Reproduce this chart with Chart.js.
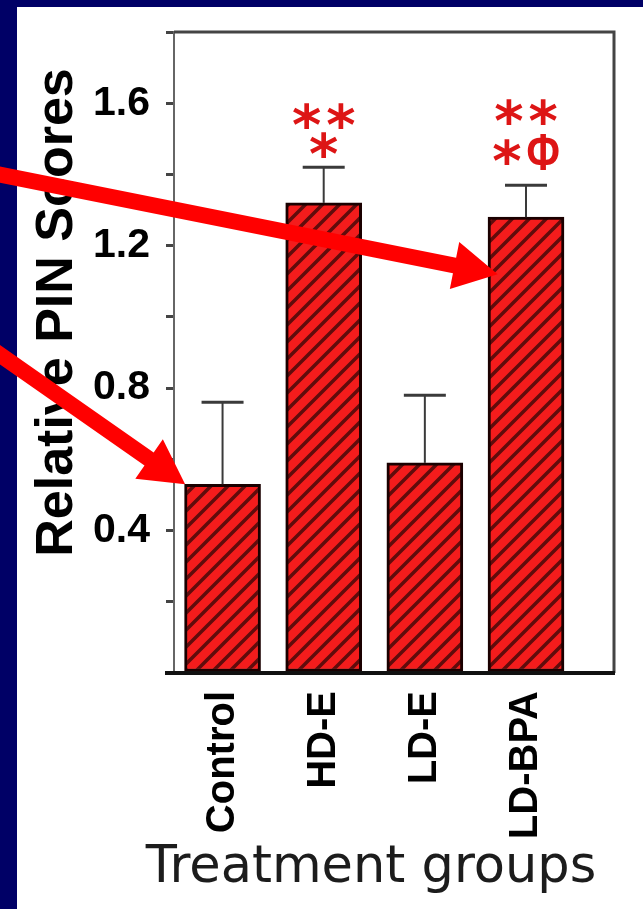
<!DOCTYPE html>
<html>
<head>
<meta charset="utf-8">
<title>Relative PIN Scores</title>
<script src="https://cdn.jsdelivr.net/npm/chart.js@4.4.1/dist/chart.umd.min.js"></script>
<style>
    html, body { margin: 0; padding: 0; background: #000066; }
    #pin-chart { display: block; }
</style>
</head>
<body>
<canvas id="pin-chart" width="643" height="909"></canvas>
<script>
(function () {
    'use strict';

    // PIN scores per treatment group (mean + upper SE)
    const groups = ['Control', 'HD-E', 'LD-E', 'LD-BPA'];
    const pinScores = [0.53, 1.32, 0.59, 1.28];
    const pinErrors = [0.23, 0.10, 0.19, 0.09];
    const yLabelled = [0.4, 0.8, 1.2, 1.6];
    const sigMarks = [[], ['**', '*'], [], ['**', '*Φ']];

    const NAVY = '#000066';
    const RED = '#f41c1c';
    const ARIAL = '"Liberation Sans", Arial, sans-serif';
    const VERDANA = '"DejaVu Sans", Verdana, sans-serif';

    // diagonal hatch used as the bar fill
    function hatch() {
        const s = 17;
        const c = document.createElement('canvas');
        c.width = s;
        c.height = s;
        const g = c.getContext('2d');
        g.fillStyle = RED;
        g.fillRect(0, 0, s, s);
        g.strokeStyle = '#600c0c';
        g.lineWidth = 3.5;
        g.beginPath();
        g.moveTo(-1, s + 1); g.lineTo(s + 1, -1);
        g.moveTo(-s / 2 - 1, s / 2 + 1); g.lineTo(s / 2 + 1, -s / 2 - 1);
        g.moveTo(s / 2 - 1, s * 1.5 + 1); g.lineTo(s * 1.5 + 1, s / 2 - 1);
        g.stroke();
        return g.createPattern(c, 'repeat');
    }

    // fixed scale box sizes, no extra label padding
    function fixBox(scale, size) {
        if (scale.isHorizontal()) scale.height = size; else scale.width = size;
        scale.paddingTop = scale.paddingBottom = scale.paddingLeft = scale.paddingRight = 0;
    }

    const panel = {
        id: 'panel',
        beforeDraw(chart) {
            const ctx = chart.ctx;
            ctx.save();
            ctx.fillStyle = NAVY;
            ctx.fillRect(0, 0, chart.width, chart.height);
            ctx.fillStyle = '#fff';
            ctx.fillRect(17, 7, chart.width - 17, chart.height - 7);
            ctx.restore();
        }
    };

    const errorBars = {
        id: 'errorBars',
        afterDatasetsDraw(chart) {
            const { ctx, scales: { x, y } } = chart;
            ctx.save();
            ctx.strokeStyle = '#3a3a3a';
            pinScores.forEach((v, i) => {
                const px = x.getPixelForValue(i);
                const top = y.getPixelForValue(v + pinErrors[i]);
                ctx.lineWidth = 2;
                ctx.beginPath();
                ctx.moveTo(px, y.getPixelForValue(v));
                ctx.lineTo(px, top);
                ctx.stroke();
                ctx.lineWidth = 3;
                ctx.beginPath();
                ctx.moveTo(px - 21, top);
                ctx.lineTo(px + 21, top);
                ctx.stroke();
            });
            ctx.restore();
        }
    };

    // glyph look for the significance marks
    const markFont = {
        '*': { font: `bold 56px ${VERDANA}`, sx: 1 },
        'Φ': { font: `bold 52px ${ARIAL}`, sx: 0.78 }
    };

    // one row of marks, each glyph centred on cy by its own ink box
    function glyphRow(ctx, text, cx, cy, gap) {
        const chars = Array.from(text);
        const info = chars.map(ch => {
            const f = markFont[ch] || markFont['*'];
            ctx.font = f.font;
            const m = ctx.measureText(ch);
            return { ch, f, w: m.width * f.sx, mid: (m.actualBoundingBoxAscent - m.actualBoundingBoxDescent) / 2 };
        });
        const total = info.reduce((a, g) => a + g.w, 0) + gap * (chars.length - 1);
        let px = cx - total / 2;
        info.forEach(g => {
            ctx.save();
            ctx.font = g.f.font;
            ctx.translate(px, cy + g.mid);
            ctx.scale(g.f.sx, 1);
            ctx.fillText(g.ch, 0, 0);
            ctx.restore();
            px += g.w + gap;
        });
    }

    function arrow(ctx, tx, ty, slope) {
        const sx = -6, sy = ty - slope * (tx - sx);
        const len = Math.hypot(tx - sx, ty - sy);
        const ux = (tx - sx) / len, uy = (ty - sy) / len;
        const nx = -uy, ny = ux;
        const head = 44, half = 24, shaft = 8;
        const bx = tx - ux * head, by = ty - uy * head;
        ctx.beginPath();
        ctx.moveTo(sx + nx * shaft, sy + ny * shaft);
        ctx.lineTo(bx + nx * shaft, by + ny * shaft);
        ctx.lineTo(bx + nx * half, by + ny * half);
        ctx.lineTo(tx, ty);
        ctx.lineTo(bx - nx * half, by - ny * half);
        ctx.lineTo(bx - nx * shaft, by - ny * shaft);
        ctx.lineTo(sx - nx * shaft, sy - ny * shaft);
        ctx.closePath();
        ctx.fill();
    }

    const decorations = {
        id: 'decorations',
        afterDraw(chart, args, opts) {
            const { ctx, chartArea: ca, scales: { x, y } } = chart;
            ctx.save();

            // box frame and heavy baseline
            ctx.strokeStyle = '#444';
            ctx.lineWidth = 3;
            ctx.beginPath();
            ctx.moveTo(ca.left, ca.top);
            ctx.lineTo(ca.right, ca.top);
            ctx.lineTo(ca.right, ca.bottom);
            ctx.stroke();
            ctx.strokeStyle = '#111';
            ctx.lineWidth = 4;
            ctx.beginPath();
            ctx.moveTo(ca.left - 9, ca.bottom);
            ctx.lineTo(ca.right + 1, ca.bottom);
            ctx.stroke();

            // axis titles
            ctx.fillStyle = '#000';
            ctx.font = `bold 52px ${ARIAL}`;
            ctx.textAlign = 'center';
            ctx.textBaseline = 'alphabetic';
            ctx.save();
            ctx.translate(ca.left - 102, (ca.top + ca.bottom) / 2 - 40);
            ctx.rotate(-Math.PI / 2);
            ctx.fillText('Relative PIN Scores', 0, 0);
            ctx.restore();
            ctx.fillStyle = '#1c1c1c';
            ctx.font = `51px ${VERDANA}`;
            ctx.fillText('Treatment groups', (ca.left + ca.right) / 2 - 23, 882);

            // significance marks
            ctx.fillStyle = '#dd1515';
            ctx.textAlign = 'left';
            sigMarks.forEach((rows, i) => {
                rows.forEach((txt, r) => {
                    glyphRow(ctx, txt, x.getPixelForValue(i), y.getPixelForValue(opts.rowY[i][r]), 5);
                });
            });

            // pointer arrows
            ctx.fillStyle = '#ff0000';
            opts.pointers.forEach(p => {
                arrow(ctx, x.getPixelForValue(p.x), y.getPixelForValue(p.y), p.slope);
            });
            ctx.restore();
        }
    };

    function init() {
        const ctx = document.getElementById('pin-chart');
        new Chart(ctx, {
            type: 'bar',
            data: {
                datasets: [{
                    data: groups.map((g, i) => ({ x: i, y: pinScores[i] })),
                    backgroundColor: hatch(),
                    borderColor: '#1a0000',
                    borderWidth: 3,
                    borderSkipped: false,
                    barThickness: 76
                }]
            },
            options: {
                responsive: false,
                animation: false,
                events: [],
                devicePixelRatio: 1,
                layout: { padding: { top: 32, right: 29, left: 0, bottom: 0 } },
                plugins: {
                    legend: { display: false },
                    tooltip: { enabled: false },
                    decorations: {
                        rowY: [[], [1.565, 1.483], [], [1.576, 1.463]],
                        pointers: [
                            { x: 2.72, y: 1.12, slope: 0.20 },
                            { x: -0.37, y: 0.53, slope: 0.70 }
                        ]
                    }
                },
                scales: {
                    x: {
                        type: 'linear',
                        min: -0.48,
                        max: 3.87,
                        offset: false,
                        grid: { display: false, drawTicks: false, offset: false },
                        border: { display: false },
                        afterBuildTicks: scale => { scale.ticks = groups.map((g, i) => ({ value: i })); },
                        afterFit: scale => fixBox(scale, 236),
                        ticks: {
                            autoSkip: false,
                            minRotation: 90,
                            maxRotation: 90,
                            padding: 18,
                            color: '#000',
                            font: { family: ARIAL, size: 40, weight: 'bold' },
                            callback: v => groups[v]
                        }
                    },
                    y: {
                        min: 0,
                        max: 1.8,
                        afterFit: scale => fixBox(scale, 174),
                        grid: { drawOnChartArea: false, drawTicks: true, tickLength: 8, color: '#444', lineWidth: 3 },
                        border: { display: true, color: '#666', width: 2 },
                        ticks: {
                            stepSize: 0.2,
                            padding: 16,
                            color: '#000',
                            font: { family: ARIAL, size: 41, weight: 'bold' },
                            callback: v => yLabelled.some(t => Math.abs(t - v) < 1e-6) ? v.toFixed(1) : ''
                        }
                    }
                }
            },
            plugins: [panel, errorBars, decorations]
        });
    }

    document.readyState === 'loading' ? document.addEventListener('DOMContentLoaded', init) : init();
})();
</script>
</body>
</html>
